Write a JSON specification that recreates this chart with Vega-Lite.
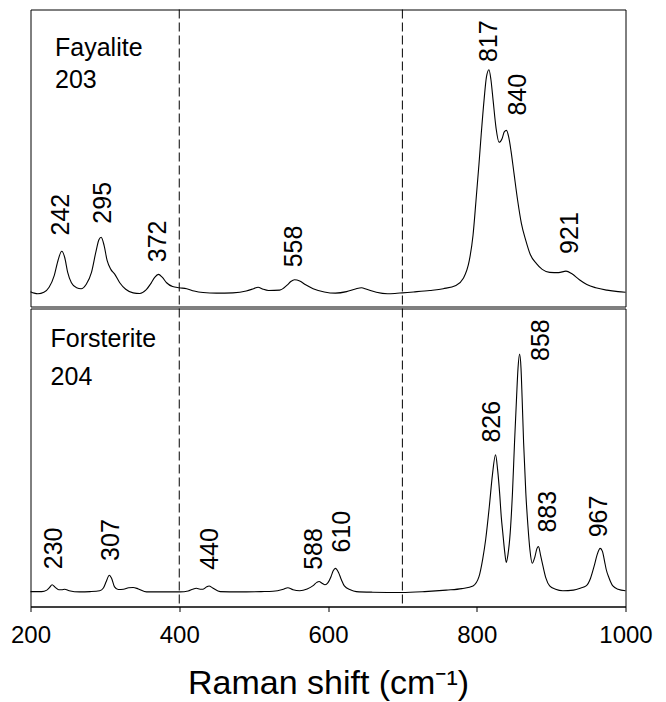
{
  "$schema": "https://vega.github.io/schema/vega-lite/v6.json",
  "padding": {"left": 9.5, "top": 8.5, "right": 5, "bottom": 2},
  "spacing": 0,
  "config": {
    "view": {"stroke": "black", "strokeWidth": 1},
    "font": "Liberation Sans",
    "concat": {"spacing": 0}
  },
  "datasets": {
    "fay": [
      {"w":200,"v":5.0},{"w":205,"v":4.5},{"w":210,"v":4.3},{"w":218,"v":4.8},{"w":225,"v":6.5},{"w":232,"v":10.5},{"w":237,"v":15.5},{"w":242,"v":18.6},{"w":246,"v":16.5},{"w":250,"v":11.5},{"w":255,"v":8.0},{"w":262,"v":6.3},{"w":268,"v":6.0},{"w":275,"v":7.5},{"w":282,"v":11.5},{"w":288,"v":18.5},{"w":292,"v":22.5},{"w":295,"v":23.3},{"w":299,"v":20.5},{"w":303,"v":15.5},{"w":308,"v":12.5},{"w":313,"v":11.0},{"w":320,"v":8.0},{"w":328,"v":5.8},{"w":338,"v":4.6},{"w":347,"v":4.4},{"w":355,"v":5.5},{"w":362,"v":7.8},{"w":367,"v":9.8},{"w":372,"v":10.8},{"w":377,"v":9.9},{"w":383,"v":8.0},{"w":391,"v":6.7},{"w":400,"v":6.3},{"w":410,"v":6.0},{"w":420,"v":5.2},{"w":432,"v":4.7},{"w":450,"v":4.5},{"w":472,"v":4.6},{"w":490,"v":5.2},{"w":500,"v":6.0},{"w":506,"v":6.5},{"w":512,"v":5.9},{"w":520,"v":5.4},{"w":535,"v":5.5},{"w":545,"v":7.2},{"w":550,"v":8.4},{"w":555,"v":9.0},{"w":562,"v":8.6},{"w":570,"v":7.3},{"w":580,"v":6.0},{"w":595,"v":4.9},{"w":610,"v":4.5},{"w":625,"v":5.0},{"w":637,"v":5.9},{"w":645,"v":6.3},{"w":652,"v":5.8},{"w":665,"v":4.8},{"w":680,"v":4.3},{"w":690,"v":4.4},{"w":700,"v":4.6},{"w":715,"v":4.9},{"w":737,"v":5.4},{"w":755,"v":6.0},{"w":772,"v":7.1},{"w":782,"v":9.5},{"w":790,"v":15.5},{"w":795,"v":24},{"w":799,"v":35.7},{"w":803,"v":48},{"w":806,"v":58},{"w":810,"v":70},{"w":813,"v":77.2},{"w":816.4,"v":79.7},{"w":819,"v":76.5},{"w":822,"v":69.4},{"w":826,"v":60},{"w":830,"v":55.3},{"w":834,"v":56.5},{"w":837,"v":58.8},{"w":840,"v":59.3},{"w":843,"v":57},{"w":846,"v":52.5},{"w":850,"v":45},{"w":855,"v":35.7},{"w":860,"v":28},{"w":866,"v":22.2},{"w":872,"v":17.5},{"w":880,"v":14.5},{"w":888,"v":12.5},{"w":898,"v":11.5},{"w":910,"v":11.4},{"w":920,"v":11.9},{"w":928,"v":11.0},{"w":938,"v":9.0},{"w":948,"v":7.4},{"w":960,"v":6.3},{"w":975,"v":5.5},{"w":990,"v":5.0},{"w":1000,"v":4.8}
    ],
    "fors": [
      {"w":200,"v":5.0},{"w":215,"v":5.0},{"w":222,"v":5.5},{"w":226,"v":6.5},{"w":229,"v":7.3},{"w":233,"v":6.5},{"w":238,"v":5.6},{"w":242,"v":5.6},{"w":246,"v":5.8},{"w":252,"v":5.3},{"w":266,"v":4.9},{"w":280,"v":5.0},{"w":293,"v":5.3},{"w":298,"v":6.2},{"w":302,"v":8.5},{"w":306,"v":10.5},{"w":309,"v":9.5},{"w":313,"v":6.6},{"w":318,"v":5.7},{"w":325,"v":5.8},{"w":332,"v":6.3},{"w":338,"v":6.4},{"w":345,"v":5.9},{"w":356,"v":4.9},{"w":380,"v":4.9},{"w":401,"v":4.9},{"w":412,"v":5.2},{"w":418,"v":5.8},{"w":423,"v":6.1},{"w":428,"v":5.8},{"w":432,"v":5.8},{"w":437,"v":6.6},{"w":440,"v":6.9},{"w":445,"v":6.2},{"w":455,"v":5.0},{"w":480,"v":4.9},{"w":510,"v":5.0},{"w":526,"v":5.1},{"w":540,"v":5.8},{"w":546,"v":6.3},{"w":553,"v":5.6},{"w":562,"v":5.3},{"w":572,"v":5.9},{"w":580,"v":7.0},{"w":585,"v":8.1},{"w":588,"v":8.4},{"w":592,"v":7.8},{"w":596,"v":7.3},{"w":600,"v":8.0},{"w":604,"v":10.0},{"w":607,"v":12.0},{"w":610,"v":12.8},{"w":614,"v":11.5},{"w":618,"v":9.0},{"w":622,"v":6.9},{"w":630,"v":5.6},{"w":638,"v":5.0},{"w":660,"v":4.8},{"w":699,"v":4.7},{"w":730,"v":5.0},{"w":759,"v":5.5},{"w":780,"v":6.0},{"w":795,"v":6.9},{"w":803,"v":10.0},{"w":808,"v":15.9},{"w":812,"v":22.5},{"w":817,"v":33.8},{"w":821,"v":44},{"w":825.3,"v":50.9},{"w":828,"v":46},{"w":830.7,"v":38.3},{"w":833,"v":30},{"w":835,"v":24.8},{"w":837.5,"v":18.5},{"w":839.7,"v":14.8},{"w":842,"v":17.5},{"w":845,"v":24.8},{"w":848,"v":38},{"w":850.8,"v":55},{"w":853.5,"v":70},{"w":855.5,"v":80},{"w":857.6,"v":84.7},{"w":859.5,"v":80},{"w":861,"v":70},{"w":863,"v":55},{"w":866,"v":38},{"w":868.8,"v":27.1},{"w":871.5,"v":19},{"w":874.6,"v":14.5},{"w":878,"v":16.5},{"w":881,"v":19.5},{"w":883,"v":20.1},{"w":886,"v":17},{"w":888.9,"v":13.7},{"w":893,"v":9.5},{"w":898,"v":6.9},{"w":906,"v":5.8},{"w":915.7,"v":5.3},{"w":930,"v":5.5},{"w":940,"v":6.2},{"w":947,"v":6.9},{"w":953,"v":9.5},{"w":958,"v":13.7},{"w":962,"v":17.5},{"w":966,"v":19.5},{"w":969,"v":18.5},{"w":972,"v":15},{"w":974,"v":12.5},{"w":978,"v":9.5},{"w":983,"v":6.9},{"w":990,"v":5.8},{"w":1000,"v":5.3}
    ],
    "fayPeaks": [
      {"w":241,"v":23.9,"label":"242"},
      {"w":297,"v":27.9,"label":"295"},
      {"w":372,"v":14.9,"label":"372"},
      {"w":554.6,"v":13.2,"label":"558"},
      {"w":816,"v":82.3,"label":"817"},
      {"w":855,"v":64.3,"label":"840"},
      {"w":925,"v":17.7,"label":"921"}
    ],
    "forsPeaks": [
      {"w":232,"v":12.5,"label":"230"},
      {"w":308,"v":15.3,"label":"307"},
      {"w":442,"v":12.3,"label":"440"},
      {"w":581,"v":12.3,"label":"588"},
      {"w":619,"v":18.1,"label":"610"},
      {"w":820.6,"v":55,"label":"826"},
      {"w":887,"v":82.4,"label":"858"},
      {"w":896,"v":24.8,"label":"883"},
      {"w":963.7,"v":23.2,"label":"967"}
    ],
    "fayNames": [
      {"w":233,"v":84.5,"label":"Fayalite"},
      {"w":233,"v":73.6,"label":"203"}
    ],
    "forsNames": [
      {"w":227,"v":87.2,"label":"Forsterite"},
      {"w":227,"v":74.4,"label":"204"}
    ],
    "rules": [{"w":400},{"w":700}]
  },
  "vconcat": [
    {
      "width": 595,
      "height": 297,
      "layer": [
        {
          "data": {"name": "fay"},
          "mark": {"type": "line", "color": "black", "strokeWidth": 1.1, "interpolate": "monotone"},
          "encoding": {
            "x": {"field": "w", "type": "quantitative", "scale": {"domain": [200, 1000], "nice": false}, "axis": null},
            "y": {"field": "v", "type": "quantitative", "scale": {"domain": [0, 100], "nice": false}, "axis": null}
          }
        },
        {
          "data": {"name": "rules"},
          "mark": {"type": "rule", "color": "black", "strokeWidth": 1, "strokeDash": [9, 4]},
          "encoding": {"x": {"field": "w", "type": "quantitative"}}
        },
        {
          "data": {"name": "fayPeaks"},
          "mark": {"type": "text", "angle": 270, "align": "left", "baseline": "middle", "fontSize": 25, "color": "black"},
          "encoding": {
            "x": {"field": "w", "type": "quantitative"},
            "y": {"field": "v", "type": "quantitative"},
            "text": {"field": "label"}
          }
        },
        {
          "data": {"name": "fayNames"},
          "mark": {"type": "text", "align": "left", "baseline": "alphabetic", "fontSize": 25, "color": "black"},
          "encoding": {
            "x": {"field": "w", "type": "quantitative"},
            "y": {"field": "v", "type": "quantitative"},
            "text": {"field": "label"}
          }
        }
      ]
    },
    {
      "width": 595,
      "height": 298,
      "layer": [
        {
          "data": {"name": "fors"},
          "mark": {"type": "line", "color": "black", "strokeWidth": 1.1, "interpolate": "monotone"},
          "encoding": {
            "x": {
              "field": "w", "type": "quantitative",
              "scale": {"domain": [200, 1000], "nice": false},
              "axis": {
                "values": [200, 400, 600, 800, 1000],
                "format": "d",
                "tickSize": 5, "tickColor": "black", "domainColor": "black",
                "labelFontSize": 24, "labelColor": "black", "labelPadding": 12,
                "labelFlush": false, "labelOverlap": false,
                "grid": false,
                "title": "Raman shift (cm⁻¹)",
                "titleFontSize": 34, "titleFontWeight": "normal", "titleColor": "black", "titlePadding": 19
              }
            },
            "y": {"field": "v", "type": "quantitative", "scale": {"domain": [0, 100], "nice": false}, "axis": null}
          }
        },
        {
          "data": {"name": "rules"},
          "mark": {"type": "rule", "color": "black", "strokeWidth": 1, "strokeDash": [9, 4]},
          "encoding": {"x": {"field": "w", "type": "quantitative"}}
        },
        {
          "data": {"name": "forsPeaks"},
          "mark": {"type": "text", "angle": 270, "align": "left", "baseline": "middle", "fontSize": 25, "color": "black"},
          "encoding": {
            "x": {"field": "w", "type": "quantitative"},
            "y": {"field": "v", "type": "quantitative"},
            "text": {"field": "label"}
          }
        },
        {
          "data": {"name": "forsNames"},
          "mark": {"type": "text", "align": "left", "baseline": "alphabetic", "fontSize": 25, "color": "black"},
          "encoding": {
            "x": {"field": "w", "type": "quantitative"},
            "y": {"field": "v", "type": "quantitative"},
            "text": {"field": "label"}
          }
        }
      ]
    }
  ]
}
